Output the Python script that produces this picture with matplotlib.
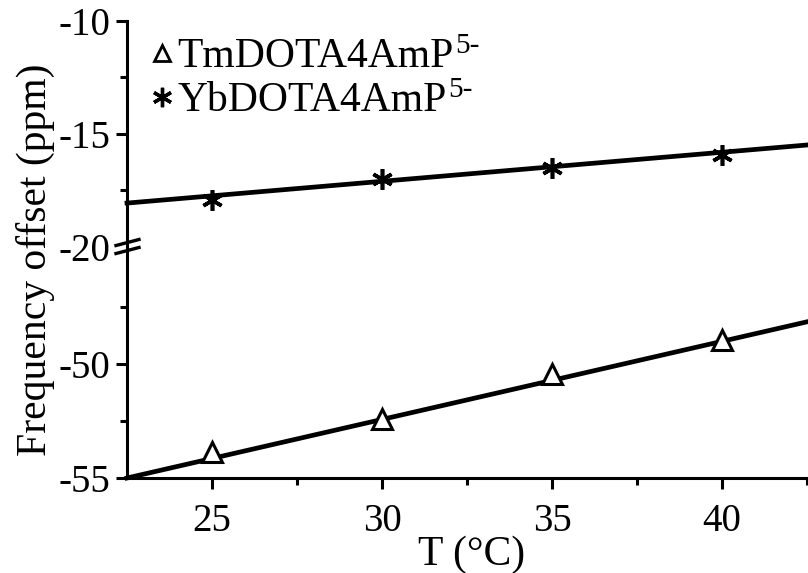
import numpy as np
import matplotlib
matplotlib.use('Agg')
import matplotlib.pyplot as plt
from matplotlib.lines import Line2D

# ---- data ----
temps = [25, 30, 35, 40]
tm_offset = [-53.85, -52.4, -50.45, -48.95]
yb_offset = [-17.95, -17.0, -16.5, -15.95]
# fitted straight lines, read at the two ends of the x range
fit_temps = [22.5, 42.5]
tm_fit = [-55.0, -48.15]
yb_fit = [-18.07, -15.5]
x_ticks = [25, 30, 35, 40]
x_minor = [27.5, 32.5, 37.5, 42.5]
top_major = [-10, -15, -20]
top_minor = [-12.5, -17.5]
bot_major = [-50, -55]
bot_minor = [-47.5, -52.5]
series_names = ['TmDOTA4AmP', 'YbDOTA4AmP']
series_charge = '5-'

plt.rcParams['font.family'] = ['Liberation Serif', 'DejaVu Serif']

W, H = 808, 573
FS = 28
FS_LAB = 30
fig = plt.figure(figsize=(W / 100, H / 100), dpi=100)
left = 127 / W
right = 807 / W
ax_top = fig.add_axes([left, 1 - 246.7 / H, right - left, (246.7 - 20.7) / H])
ax_bot = fig.add_axes([left, 1 - 478 / H, right - left, (478 - 250) / H])

lw_line = 3.4
lw_spine = 2.2
tri_style = dict(linestyle='none', marker='^', mfc='white', mec='black')
ast_style = dict(linestyle='none', marker=(6, 2, 0), color='black')

# Yb series (top)
ax_top.plot(fit_temps, yb_fit, color='black', lw=lw_line, clip_on=False, zorder=2)
ax_top.plot(temps, yb_offset, ms=15, mew=2.6, zorder=3, **ast_style)
# Tm series (bottom)
ax_bot.plot(fit_temps, tm_fit, color='black', lw=lw_line, clip_on=False, zorder=2)
ax_bot.plot(temps, tm_offset, ms=14, mew=2.2, zorder=3, **tri_style)

for ax in (ax_top, ax_bot):
    ax.set_xlim(fit_temps[0], fit_temps[1])
    ax.spines['top'].set_visible(False)
    ax.spines['right'].set_visible(False)
    ax.spines['left'].set_linewidth(lw_spine)
    ax.spines['bottom'].set_linewidth(lw_spine)
    ax.tick_params(axis='both', which='major', direction='out', length=8, width=lw_spine,
                   labelsize=FS, pad=4)
    ax.tick_params(axis='both', which='minor', direction='out', length=5, width=lw_spine)
    ax.patch.set_visible(False)

ax_top.set_ylim(-20, -10)
ax_top.spines['bottom'].set_visible(False)
ax_top.set_yticks(top_major)
ax_top.set_yticklabels([str(v) for v in top_major])
ax_top.set_yticks(top_minor, minor=True)
ax_top.yaxis.get_major_ticks()[2].tick1line.set_visible(False)
ax_top.xaxis.set_visible(False)

ax_bot.set_ylim(-55, -45)
ax_bot.set_yticks(bot_major)
ax_bot.set_yticklabels([str(v) for v in bot_major])
ax_bot.set_yticks(bot_minor, minor=True)
ax_bot.set_xticks(x_ticks)
ax_bot.set_xticklabels([str(v) for v in x_ticks])
ax_bot.set_xticks(x_minor, minor=True)
ax_bot.tick_params(axis='x', which='major', pad=10)

# break marks on the y axis
for (x0, y0, x1, y1) in [(116, 245.5, 139, 239.5), (116, 253.5, 139, 247.5)]:
    fig.add_artist(Line2D([x0 / W, x1 / W], [1 - y0 / H, 1 - y1 / H],
                          color='black', lw=2.4, transform=fig.transFigure))

# axis labels
fig.text(35 / W, 1 - 260 / H, 'Frequency offset (ppm)', rotation=90,
         ha='center', va='center', fontsize=FS_LAB)
fig.text(472 / W, 1 - 555 / H, 'T (°C)', ha='center', va='center', fontsize=FS_LAB)

# legend (drawn by hand: marker, name and raised charge)
leg_rows = [(53, 67, dict(ms=12, mew=2.0, **tri_style)),
            (97, 111, dict(ms=14, mew=2.4, **ast_style))]
fig.canvas.draw()
renderer = fig.canvas.get_renderer()
for name, (ym, yb, mstyle) in zip(series_names, leg_rows):
    fig.add_artist(Line2D([162 / W], [1 - ym / H], transform=fig.transFigure, **mstyle))
    t = fig.text(177 / W, 1 - yb / H, name, ha='left', va='baseline', fontsize=FS_LAB)
    bb = t.get_window_extent(renderer)
    fig.text((bb.x1 + 2) / W, 1 - (yb - 14) / H, series_charge, ha='left', va='baseline',
             fontsize=21)

fig.savefig('out.png', dpi=100)
